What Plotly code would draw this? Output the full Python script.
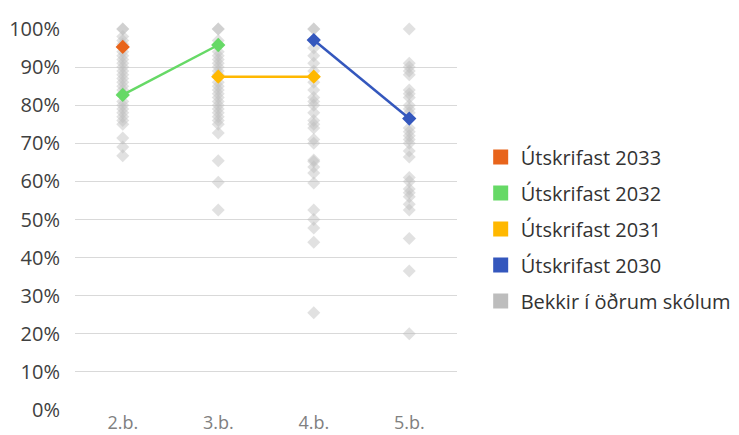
import plotly.graph_objects as go

# Flokkar á x-ás
BEKKIR = ["2.b.", "3.b.", "4.b.", "5.b."]

# Bekkir í öðrum skólum (hlutfall)
ADRIR_2B = [1.00, 1.00, 0.98, 0.97, 0.96, 0.94, 0.93, 0.92, 0.91, 0.90, 0.89, 0.88, 0.87,
            0.86, 0.85, 0.84, 0.83, 0.81, 0.80, 0.79, 0.78, 0.77, 0.76, 0.75, 0.714, 0.69, 0.667]
ADRIR_3B = [1.00, 1.00, 0.97, 0.94, 0.93, 0.92, 0.91, 0.90, 0.89, 0.88, 0.86, 0.85, 0.84,
            0.83, 0.82, 0.81, 0.80, 0.79, 0.78, 0.77, 0.76, 0.75, 0.727, 0.654, 0.598, 0.525]
ADRIR_4B = [1.00, 1.00, 0.95, 0.93, 0.91, 0.89, 0.86, 0.84, 0.82, 0.81, 0.80, 0.78, 0.76,
            0.75, 0.74, 0.71, 0.70, 0.656, 0.652, 0.638, 0.622, 0.596, 0.525, 0.50, 0.478,
            0.44, 0.255]
ADRIR_5B = [1.00, 0.91, 0.90, 0.89, 0.88, 0.84, 0.83, 0.82, 0.80, 0.79, 0.78, 0.74, 0.73,
            0.72, 0.71, 0.70, 0.68, 0.664, 0.61, 0.60, 0.58, 0.57, 0.56, 0.54, 0.525, 0.45,
            0.365, 0.20]

# Árgangar skólans
UTSKR_2033 = [0.953, None, None, None]
UTSKR_2032 = [0.827, 0.958, None, None]
UTSKR_2031 = [None, 0.875, 0.875, None]
UTSKR_2030 = [None, None, 0.971, 0.765]

GREY = "#bdbdbd"
FONT = "'Open Sans', sans-serif"

fig = go.Figure()

grey_x, grey_y = [], []
for b, vals in zip(BEKKIR, [ADRIR_2B, ADRIR_3B, ADRIR_4B, ADRIR_5B]):
    grey_x += [b] * len(vals)
    grey_y += vals

fig.add_trace(go.Scatter(
    x=grey_x, y=grey_y, mode="markers", showlegend=False, cliponaxis=False,
    marker=dict(symbol="diamond", size=10, color=GREY, opacity=0.45)))

reeks = [
    ("Útskrifast 2033", UTSKR_2033, "#e8641b"),
    ("Útskrifast 2032", UTSKR_2032, "#66d966"),
    ("Útskrifast 2031", UTSKR_2031, "#ffb800"),
    ("Útskrifast 2030", UTSKR_2030, "#3457bd"),
]
for name, vals, col in reeks:
    fig.add_trace(go.Scatter(
        x=BEKKIR, y=vals, mode="lines+markers", showlegend=False, cliponaxis=False,
        connectgaps=False, line=dict(color=col, width=2.5),
        marker=dict(symbol="diamond", size=11, color=col)))

# Skýringar með ferningum
for i, (name, col) in enumerate([(n, c) for n, _, c in reeks] + [("Bekkir í öðrum skólum", GREY)]):
    fig.add_trace(go.Scatter(
        x=[None], y=[None], mode="markers", name=name, legendgroup=f"g{i}",
        marker=dict(symbol="square", size=15, color=col)))

fig.update_layout(
    width=739, height=435,
    paper_bgcolor="white", plot_bgcolor="white",
    font=dict(family=FONT, size=20, color="#404040"),
    margin=dict(l=67, r=290, t=21, b=33, autoexpand=False),
    legend=dict(x=1.062, xanchor="left", y=0.475, yanchor="middle",
                font=dict(size=20, color="#333333"), tracegroupgap=7,
                itemclick=False),
)
fig.update_xaxes(type="category", range=[-0.5, 3.5], showgrid=False, showline=False,
                 zeroline=False, automargin=False,
                 tickfont=dict(size=18, color="#808080"), ticks="")
fig.update_yaxes(range=[0, 1], tickformat=".0%", dtick=0.1, showgrid=True, automargin=False,
                 gridcolor="#d9d9d9", gridwidth=1, zeroline=False, showline=False,
                 tickfont=dict(size=20, color="#404040"), ticks="outside", ticklen=10,
                 tickcolor="rgba(0,0,0,0)")

fig.write_html("out.html")
